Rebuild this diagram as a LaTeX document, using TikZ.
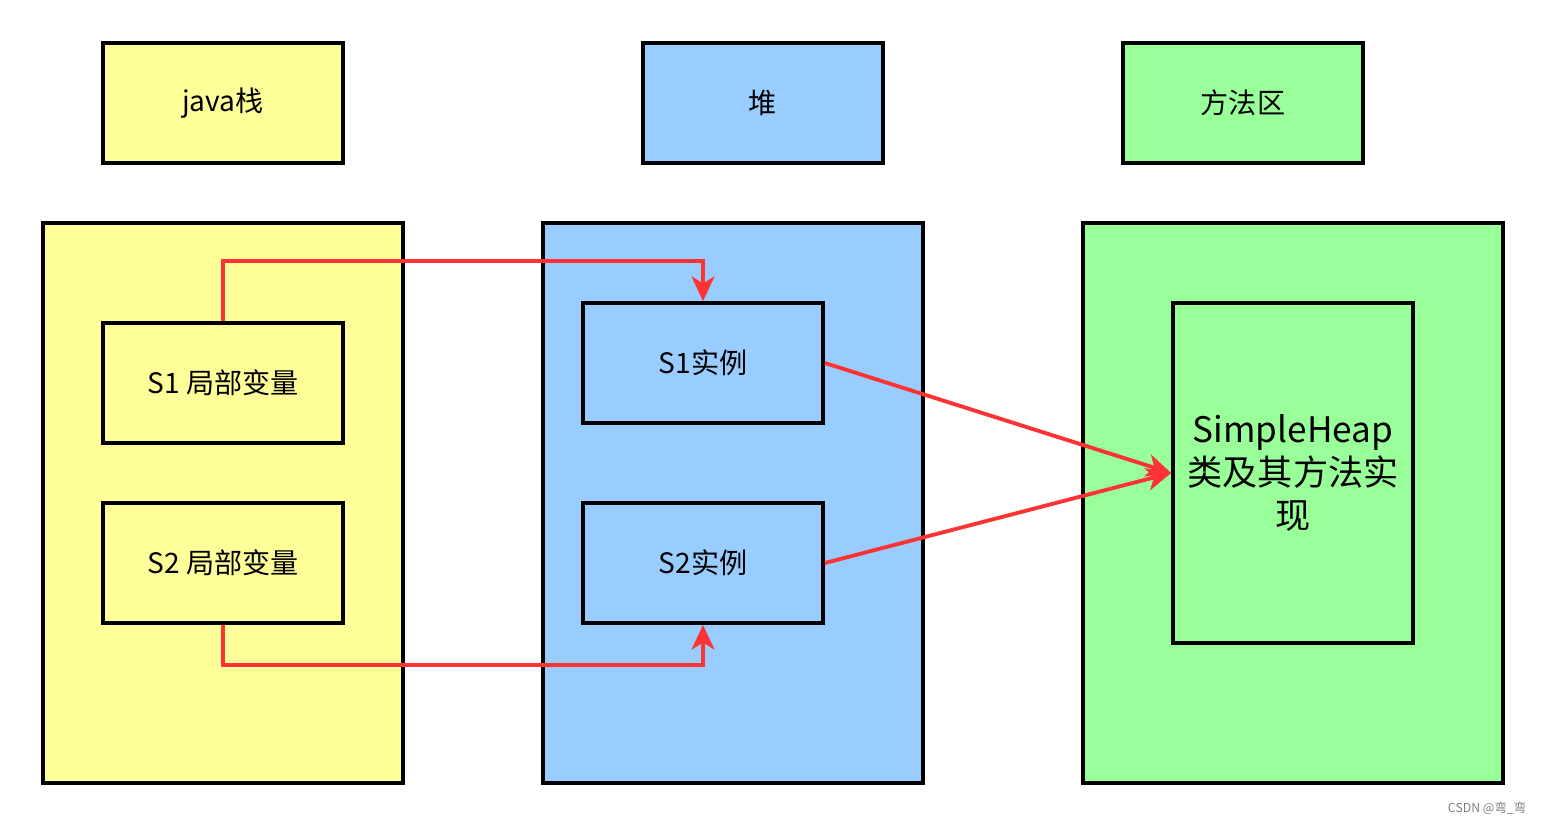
\documentclass[tikz,border=0pt]{standalone}
\usepackage{fontspec}
\setmainfont{Noto Sans CJK SC}
\definecolor{stackyellow}{RGB}{255, 255, 153}
\definecolor{heapblue}{RGB}{153, 204, 255}
\definecolor{methodgreen}{RGB}{153, 255, 153}
\definecolor{refred}{RGB}{255, 51, 51}
\usetikzlibrary{arrows.meta, positioning}

\begin{document}
\begin{tikzpicture}[x=0.02cm, y=-0.02cm,
    area/.style={draw=black, line width=2.2pt, minimum width=#1},
    titlebox/.style={area=4.8cm, minimum height=2.4cm, font=\fontsize{16}{19}\selectfont},
    itembox/.style={area=4.8cm, minimum height=2.4cm, font=\fontsize{16}{19}\selectfont},
    ref/.style={draw=refred, line width=2.2pt, -{Stealth[length=14pt, width=13pt, inset=4pt]}}]
  \useasboundingbox (0,0) rectangle (1544,824);

  % titles
  \node[titlebox, fill=stackyellow] (stacktitle) at (223,103) {java栈};
  \node[titlebox, fill=heapblue] (heaptitle) at (763,103) {堆};
  \node[titlebox, fill=methodgreen] (methodtitle) at (1243,103) {方法区};

  % java stack
  \node[area=7.2cm, minimum height=11.2cm, fill=stackyellow] (stack) at (223,503) {};
  \node[itembox, fill=stackyellow] (s1var) at (223,383) {S1 局部变量};
  \node[itembox, fill=stackyellow] (s2var) at (223,563) {S2 局部变量};

  % heap
  \node[area=7.6cm, minimum height=11.2cm, fill=heapblue] (heap) at (733,503) {};
  \node[itembox, fill=heapblue] (s1obj) at (703,363) {S1实例};
  \node[itembox, fill=heapblue] (s2obj) at (703,563) {S2实例};

  % method area
  \node[area=8.4cm, minimum height=11.2cm, fill=methodgreen] (method) at (1293,503) {};
  \node[area=4.8cm, minimum height=6.8cm, fill=methodgreen, align=center,
        font=\fontsize{20}{24.5}\selectfont] (classdef) at (1293,473) {SimpleHeap\\类及其方法实\\现};

  % references
  \draw[ref] (s1var.north) -- ++(0,-60) -| (s1obj.north);
  \draw[ref] (s2var.south) -- ++(0,40) -| (s2obj.south);
  \draw[ref] (s1obj.east) -- (classdef.west);
  \draw[ref] (s2obj.east) -- (classdef.west);

  \node[text=gray, font=\fontsize{7}{8}\selectfont] (mark) at (1487,808) {CSDN @弯\_弯};
\end{tikzpicture}
\end{document}
